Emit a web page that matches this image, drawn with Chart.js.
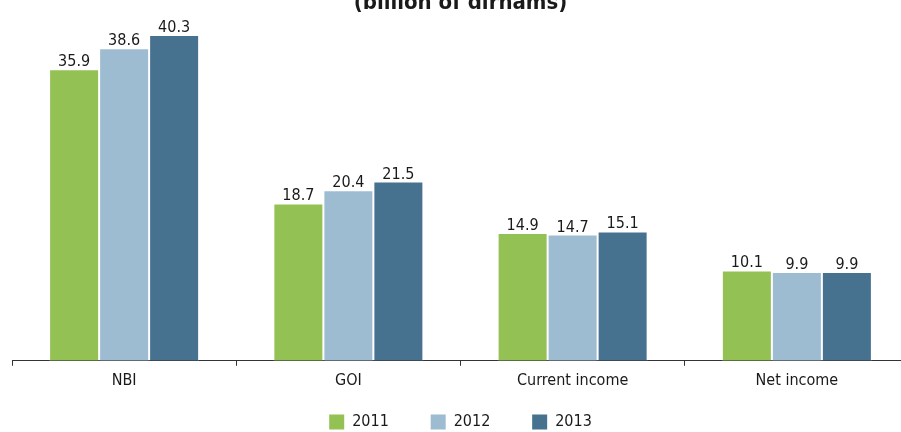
<!DOCTYPE html>
<html>
<head>
<meta charset="utf-8">
<script src="https://cdn.jsdelivr.net/npm/chart.js@4"></script>
<style>
  html, body { margin:0; padding:0; background:#fff; overflow:hidden; width:901px; height:432px; }
  #wrap { position:absolute; left:0; top:-30px; width:909px; height:470px; }
</style>
</head>
<body>
<div id="wrap"><canvas id="chart" width="909" height="470"></canvas></div>
<script>
const categories = ['NBI', 'GOI', 'Current income', 'Net income'];
const years = ['2011', '2012', '2013'];
const values2011 = [35.9, 18.7, 14.9, 10.1];
const values2012 = [38.6, 20.4, 14.7, 9.9];
const values2013 = [40.3, 21.5, 15.1, 9.9];
const colors = ['#94C153', '#9DBCD1', '#46718F'];

const FONT = "'Liberation Sans Narrow', 'DejaVu Sans Condensed', Roboto, sans-serif";
const TEXT = '#1a1a1a';
Chart.defaults.font.family = FONT;
Chart.defaults.color = TEXT;

const valueLabels = {
  id: 'valueLabels',
  afterDatasetsDraw(chart){
    const ctx = chart.ctx;
    ctx.save();
    ctx.font = '16px ' + FONT;
    ctx.fillStyle = TEXT;
    ctx.textAlign = 'center';
    ctx.textBaseline = 'alphabetic';
    chart.data.datasets.forEach((ds, i)=>{
      chart.getDatasetMeta(i).data.forEach((bar, j)=>{
        ctx.fillText(ds.data[j].toFixed(1), bar.x, bar.y - 3);
      });
    });
    ctx.restore();
  }
};

const series = [values2011, values2012, values2013];
new Chart(document.getElementById('chart').getContext('2d'), {
  type: 'bar',
  data: {
    labels: categories,
    datasets: series.map((d, i)=>({
      label: years[i],
      data: d,
      base: -1.48,
      backgroundColor: colors[i],
      borderColor: 'rgba(255,255,255,0.5)',
      borderWidth: 1,
      borderSkipped: 'bottom',
      categoryPercentage: 0.669,
      barPercentage: 1
    }))
  },
  options: {
    responsive: false,
    animation: false,
    layout: { padding: { left: 12, right: 0, top: 0, bottom: 0 } },
    scales: {
      x: {
        grid: { drawOnChartArea: false, color: '#333', tickLength: 5, offset: true },
        border: { color: '#333', width: 1 },
        ticks: { padding: 5, font: { size: 16 }, color: TEXT, maxRotation: 0 }
      },
      y: { display: false, min: -1.48, max: 42.68 }
    },
    plugins: {
      title: {
        display: true,
        text: '(billion of dirhams)',
        font: { size: 22, weight: 'bold' },
        color: TEXT,
        padding: { top: 20, bottom: 0 }
      },
      legend: {
        position: 'bottom',
        labels: {
          font: { size: 16 },
          boxWidth: 15,
          boxHeight: 15,
          padding: 19,
          color: TEXT,
          generateLabels(chart){
            const items = Chart.defaults.plugins.legend.labels.generateLabels(chart);
            items.forEach((it, i)=>{ it.lineWidth = 0; if(i < items.length - 1) it.text += '     '; });
            return items;
          }
        }
      },
      tooltip: { enabled: false }
    }
  },
  plugins: [valueLabels]
});
</script>
</body>
</html>
